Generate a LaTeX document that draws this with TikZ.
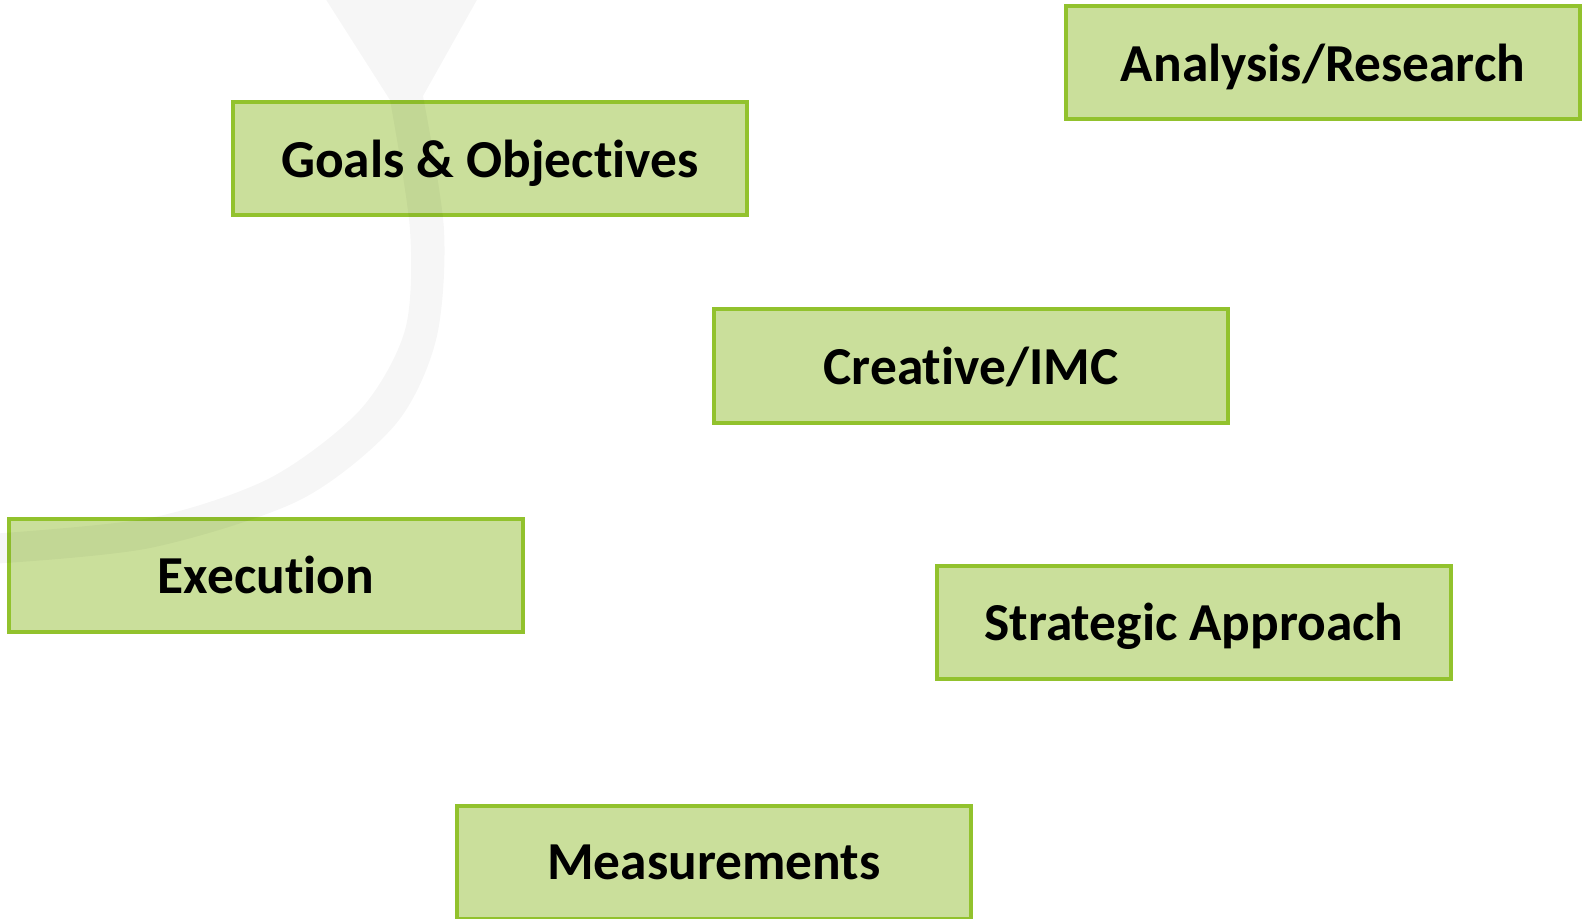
\documentclass[tikz,border=0pt]{standalone}
\usepackage{fontspec}
\setmainfont{Carlito}[Ligatures=NoCommon]
\usepackage{tikz}
\usetikzlibrary{positioning}
\definecolor{stagefill}{RGB}{202,223,155}
\definecolor{stageline}{RGB}{146,194,45}

\begin{document}
\begin{tikzpicture}[x=0.5pt,y=-0.5pt,
  stage/.style={draw=stageline,fill=stagefill,line width=2pt,
                minimum width=257pt,minimum height=56.5pt,
                text depth=0pt,
                font=\fontsize{26.7}{30}\selectfont\bfseries,align=center},
  band/.style={fill=black,fill opacity=0.035,draw=none}
]
\useasboundingbox (0,0) rectangle (1588,919);

\node[stage] (analysis)  at (1323,63)  {Analysis/Research};
\node[stage] (goals)     at (490,159)  {Goals \& Objectives};
\node[stage] (creative)  at (971,366)  {Creative/IMC};
\node[stage] (execution) at (266,575)  {Execution};
\node[stage] (strategic) at (1194,622) {Strategic Approach};
\node[stage] (measure)   at (714,862)  {Measurements};

% faint circular arrow laid over the boxes
\begin{scope}
\clip (0,0) rectangle (1588,919);
\fill[band] (325,-2) -- (478,-2) -- (423,96)
  -- plot[smooth] coordinates {(423,96) (444,230) (436,340) (395,425)
       (300,500) (150,548) (-10,564)}
  -- (-10,534)
  -- plot[smooth] coordinates {(-10,534) (150,518) (270,478) (360,410)
       (405,330) (410,230) (390,100)}
  -- cycle;
\end{scope}
\end{tikzpicture}
\end{document}
